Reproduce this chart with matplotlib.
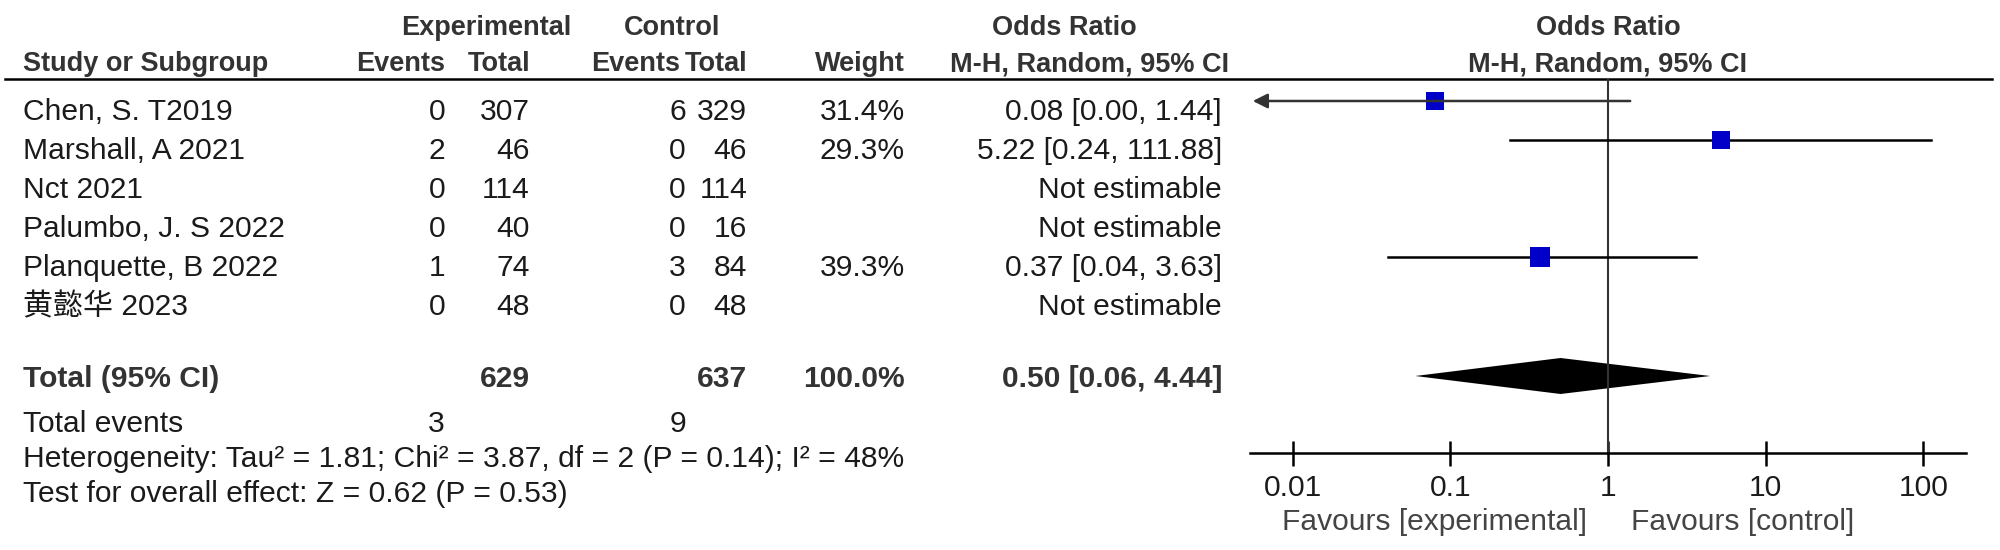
import matplotlib
matplotlib.use('Agg')
import matplotlib.pyplot as plt
import numpy as np

plt.rcParams['font.family'] = ['Liberation Sans', 'Noto Sans CJK SC']

studies = ['Chen, S. T2019', 'Marshall, A 2021', 'Nct 2021', 'Palumbo, J. S 2022',
           'Planquette, B 2022', '黄懿华 2023']
exp_events = [0, 2, 0, 0, 1, 0]
exp_total = [307, 46, 114, 40, 74, 48]
ctl_events = [6, 0, 0, 0, 3, 0]
ctl_total = [329, 46, 114, 16, 84, 48]
weights = [31.4, 29.3, None, None, 39.3, None]
or_est = [0.08, 5.22, None, None, 0.37, None]
or_low = [0.00, 0.24, None, None, 0.04, None]
or_high = [1.44, 111.88, None, None, 3.63, None]

pooled = (0.50, 0.06, 4.44)
tick_vals = [0.01, 0.1, 1, 10, 100]
tick_labels = ['0.01', '0.1', '1', '10', '100']

W, H = 2000, 550
fig = plt.figure(figsize=(W / 100, H / 100), dpi=100)
ax = fig.add_axes([0, 0, 1, 1])
ax.set_xlim(0, W)
ax.set_ylim(H, 0)
ax.axis('off')

fs = 21.6
hfs = 19.5
dark = '#333333'
txt = '#1a1a1a'

# column right edges (pixels)
c_name, c_ee, c_et, c_ce, c_ct, c_w, c_or = 23, 445, 530, 686, 747, 905, 1222

# header
ax.text(486, 28, 'Experimental', ha='center', va='center', fontsize=hfs, fontweight='bold', color=dark)
ax.text(672, 28, 'Control', ha='center', va='center', fontsize=hfs, fontweight='bold', color=dark)
ax.text(1064, 28, 'Odds Ratio', ha='center', va='center', fontsize=hfs, fontweight='bold', color=dark)
ax.text(1608, 28, 'Odds Ratio', ha='center', va='center', fontsize=hfs, fontweight='bold', color=dark)
hy = 64
ax.text(c_name, hy, 'Study or Subgroup', ha='left', va='center', fontsize=hfs, fontweight='bold', color=dark)
ax.text(c_ee, hy, 'Events', ha='right', va='center', fontsize=hfs, fontweight='bold', color=dark)
ax.text(c_et, hy, 'Total', ha='right', va='center', fontsize=hfs, fontweight='bold', color=dark)
ax.text(c_ce - 6, hy, 'Events', ha='right', va='center', fontsize=hfs, fontweight='bold', color=dark)
ax.text(c_ct, hy, 'Total', ha='right', va='center', fontsize=hfs, fontweight='bold', color=dark)
ax.text(c_w, hy, 'Weight', ha='right', va='center', fontsize=hfs, fontweight='bold', color=dark)
ax.text(1090, hy, 'M-H, Random, 95% CI', ha='center', va='center', fontsize=hfs, fontweight='bold', color=dark)
ax.text(1608, hy, 'M-H, Random, 95% CI', ha='center', va='center', fontsize=hfs, fontweight='bold', color=dark)
ax.plot([5, 1992], [79, 79], color='black', lw=1.8)

row_y = [112 + 39 * i for i in range(len(studies))]
for i, y in enumerate(row_y):
    ax.text(c_name, y, studies[i], ha='left', va='center', fontsize=fs, color=txt)
    ax.text(c_ee, y, str(exp_events[i]), ha='right', va='center', fontsize=fs, color=txt)
    ax.text(c_et, y, str(exp_total[i]), ha='right', va='center', fontsize=fs, color=txt)
    ax.text(c_ce, y, str(ctl_events[i]), ha='right', va='center', fontsize=fs, color=txt)
    ax.text(c_ct, y, str(ctl_total[i]), ha='right', va='center', fontsize=fs, color=txt)
    if weights[i] is not None:
        ax.text(c_w, y, f'{weights[i]:.1f}%', ha='right', va='center', fontsize=fs, color=txt)
        ax.text(c_or, y, f'{or_est[i]:.2f} [{or_low[i]:.2f}, {or_high[i]:.2f}]',
                ha='right', va='center', fontsize=fs, color=txt)
    else:
        ax.text(c_or, y, 'Not estimable', ha='right', va='center', fontsize=fs, color=txt)

ty = 379
ax.text(c_name, ty, 'Total (95% CI)', ha='left', va='center', fontsize=fs, fontweight='bold', color=dark)
ax.text(c_et, ty, str(sum(exp_total)), ha='right', va='center', fontsize=fs, fontweight='bold', color=dark)
ax.text(c_ct, ty, str(sum(ctl_total)), ha='right', va='center', fontsize=fs, fontweight='bold', color=dark)
ax.text(c_w, ty, '100.0%', ha='right', va='center', fontsize=fs, fontweight='bold', color=dark)
ax.text(c_or, ty, f'{pooled[0]:.2f} [{pooled[1]:.2f}, {pooled[2]:.2f}]', ha='right', va='center',
        fontsize=fs, fontweight='bold', color=dark)
ax.text(c_name, 424, 'Total events', ha='left', va='center', fontsize=fs, color=txt)
ax.text(c_ee, 424, str(sum(exp_events)), ha='right', va='center', fontsize=fs, color=txt)
ax.text(c_ce, 424, str(sum(ctl_events)), ha='right', va='center', fontsize=fs, color=txt)
ax.text(c_name, 459, 'Heterogeneity: Tau² = 1.81; Chi² = 3.87, df = 2 (P = 0.14); I² = 48%',
        ha='left', va='center', fontsize=fs, color=txt)
ax.text(c_name, 494, 'Test for overall effect: Z = 0.62 (P = 0.53)', ha='left', va='center', fontsize=fs,
        color=txt)

# forest panel, y in same pixel units
x0, x1 = 1250, 1966
yb = 453
fa = fig.add_axes([x0 / W, 1 - yb / H, (x1 - x0) / W, (yb - 79) / H])
fa.set_xscale('log')
lim = 10 ** 2.27
fa.set_xlim(1 / lim, lim)
fa.set_ylim(yb, 79)
fa.patch.set_alpha(0)
for s in ['top', 'right', 'left']:
    fa.spines[s].set_visible(False)
fa.spines['bottom'].set_linewidth(1.8)
fa.set_yticks([])
fa.set_xticks(tick_vals)
fa.set_xticklabels(tick_labels)
fa.minorticks_off()
fa.tick_params(axis='x', direction='inout', length=18, width=1.8, labelsize=fs, pad=6, colors='black',
               labelcolor=txt)
fa.axvline(1, color='#333333', lw=1.5)

for i, y in enumerate(row_y):
    if weights[i] is None:
        continue
    yy = y - 11
    if or_low[i] < 1 / lim:
        fa.annotate('', xy=(1 / lim, yy), xytext=(or_high[i], yy),
                    arrowprops=dict(arrowstyle='-|>', color='#333333', lw=1.8, mutation_scale=22))
    else:
        fa.plot([or_low[i], or_high[i]], [yy, yy], color='black', lw=1.8)
    fa.plot(or_est[i], yy, marker='s', color='#0000c8', ms=2.35 * np.sqrt(weights[i]), mew=0)

dy = 18
dc = ty - 3
fa.fill([pooled[1], pooled[0], pooled[2], pooled[0]], [dc, dc - dy, dc, dc + dy],
        color='black', lw=0)

ax.text(1587, 522, 'Favours [experimental]', ha='right', va='center', fontsize=fs, color='#444444')
ax.text(1631, 522, 'Favours [control]', ha='left', va='center', fontsize=fs, color='#444444')

fig.savefig('out.png', dpi=100)
